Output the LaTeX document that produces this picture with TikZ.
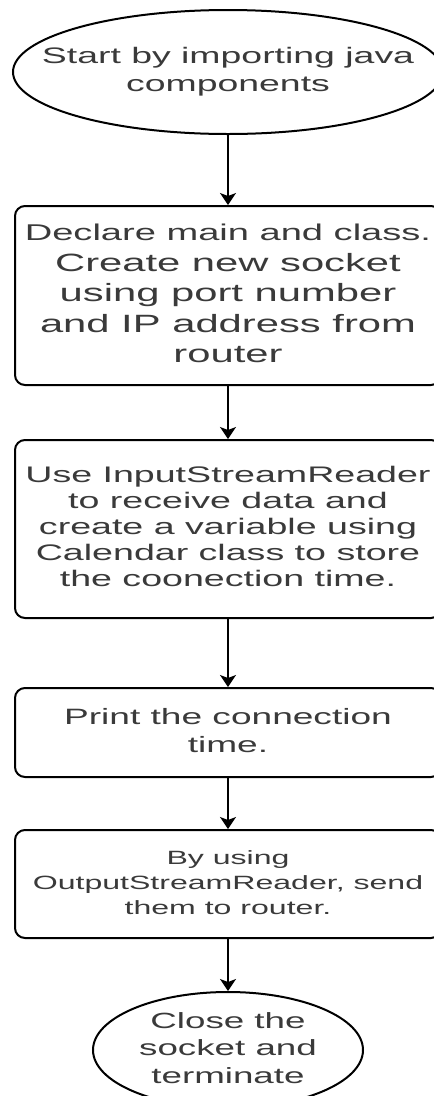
\documentclass[tikz,border=0pt]{standalone}
\usepackage{fontspec}
\setmainfont{Liberation Sans}
\usepackage{graphicx}
\usetikzlibrary{shapes.geometric,arrows.meta}
\definecolor{txt}{HTML}{3A3A3A}
% stretched text: size, line skip, lines
\newcommand{\wtxt}[3]{\scalebox{1.67}[1]{\color{txt}\fontsize{#1}{#2}\selectfont\begin{tabular}{@{}c@{}}#3\end{tabular}}}
\tikzset{
  term/.style={ellipse, draw=black, line width=2pt, inner sep=0pt},
  procbox/.style={rectangle, draw=black, line width=2pt, rounded corners=10pt,
    minimum width=426pt, inner sep=0pt},
  flow/.style={line width=1.5pt, -{Stealth[length=12pt,width=16pt,inset=3pt]}}
}
\begin{document}
\begin{tikzpicture}[x=1pt,y=-1pt]
\useasboundingbox (0,0) rectangle (434,1096);
\clip (0,0) rectangle (434,1096);
\fill[white] (0,0) rectangle (434,1096);

\node[term, minimum width=430pt, minimum height=124pt,
  label={center:{\wtxt{22.4}{28}{Start by importing java\\components}}}] (e1) at (228,72) {};

\node[procbox, minimum height=179pt] (b2) at (228,295.5)
  {\wtxt{25}{30.5}{{\fontsize{22.8}{30.5}\selectfont Declare main and class.}\\Create new socket\\using port number\\and IP address from\\router}};

\node[procbox, minimum height=178pt] (b3) at (228,529)
  {\wtxt{22.5}{26}{Use InputStreamReader\\to receive data and\\create a variable using\\Calendar class to store\\the coonection time.}};

\node[procbox, minimum height=89pt] (b4) at (228,732.5)
  {\wtxt{22.2}{28}{Print the connection\\time.}};

\node[procbox, minimum height=108pt] (b5) at (228,884)
  {\wtxt{19.2}{25}{By using\\OutputStreamReader, send\\them to router.}};

\node[term, minimum width=270pt, minimum height=116pt,
  label={center:{\wtxt{22}{27.5}{Close the\\socket and\\terminate}}}] (e2) at (228,1050) {};

\draw[flow] (e1) -- (b2);
\draw[flow] (b2) -- (b3);
\draw[flow] (b3) -- (b4);
\draw[flow] (b4) -- (b5);
\draw[flow] (b5) -- (e2);
\end{tikzpicture}
\end{document}
